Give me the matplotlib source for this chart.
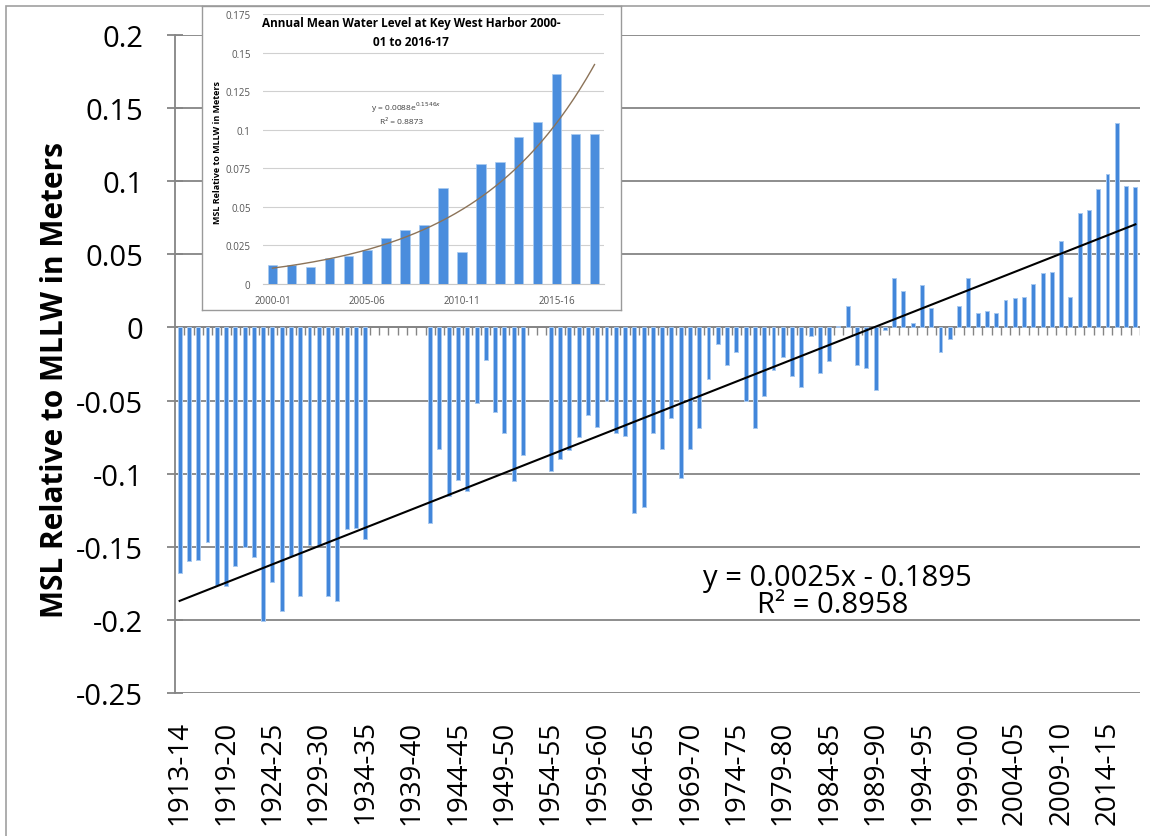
import numpy as np
import matplotlib
matplotlib.use("Agg")
import matplotlib.pyplot as plt
from matplotlib.patches import Rectangle

plt.rcParams['font.family'] = ['Open Sans', 'DejaVu Sans']

# Water years (July-June); 1914-15 is absent from the record
start_years = [1913] + list(range(1915, 2018))
seasons = [f"{y}-{(y + 1) % 100:02d}" for y in start_years]

# Annual mean sea level relative to MLLW (m); None = no data that year
msl = [
    -0.168, -0.160, -0.159, -0.147, -0.176, -0.177, -0.163, -0.150, -0.157, -0.201,
    -0.174, -0.194, -0.156, -0.184, -0.149, -0.149, -0.184, -0.187, -0.138, -0.137,
    -0.145, None, None, None, None, None, None, -0.134, -0.083, -0.115,
    -0.104, -0.112, -0.052, -0.022, -0.058, -0.072, -0.105, -0.087, None, None,
    -0.098, -0.090, -0.084, -0.075, -0.060, -0.068, -0.050, -0.072, -0.074, -0.127,
    -0.123, -0.072, -0.083, -0.062, -0.103, -0.083, -0.069, -0.035, -0.011, -0.026,
    -0.017, -0.050, -0.069, -0.047, -0.029, -0.020, -0.033, -0.041, -0.006, -0.031,
    -0.023, 0.001, 0.015, -0.026, -0.028, -0.043, -0.002, 0.034, 0.025, 0.003,
    0.029, 0.013, -0.017, -0.008, 0.015, 0.034, 0.010, 0.011, 0.010, 0.019,
    0.020, 0.021, 0.030, 0.037, 0.038, 0.059, 0.021, 0.078, 0.080, 0.095,
    0.105, 0.140, 0.097, 0.096,
]
y_ticks = [-0.25, -0.2, -0.15, -0.1, -0.05, 0.0, 0.05, 0.1, 0.15, 0.2]
y_tick_labels = ["-0.25", "-0.2", "-0.15", "-0.1", "-0.05", "0", "0.05", "0.1", "0.15", "0.2"]
trend_slope, trend_intercept, trend_r2 = 0.0025, -0.1895, 0.8958

# Inset: recent years
recent_seasons = seasons[-18:]
recent_msl = [0.012, 0.012, 0.011, 0.017, 0.018, 0.022, 0.030, 0.035, 0.038, 0.062,
              0.021, 0.078, 0.079, 0.095, 0.105, 0.136, 0.097, 0.097]
inset_ticks = [0, 0.025, 0.05, 0.075, 0.1, 0.125, 0.15, 0.175]
inset_tick_labels = ["0", "0.025", "0.05", "0.075", "0.1", "0.125", "0.15", "0.175"]
exp_a, exp_b, exp_r2 = 0.0088, 0.1546, 0.8873

W, H = 1150, 837
fig = plt.figure(figsize=(W / 100, H / 100), dpi=100)
fig.patch.set_facecolor('white')

def fx(px):
    return px / W

def fy(py):
    return 1 - py / H

grid_c = '#858585'
bar_c = '#4286DA'
bar_edge = '#A8C9F0'

# outer chart border (top and left edges visible)
fig.patches.append(Rectangle((fx(6), fy(H + 20)), fx(W + 20), (H + 13) / H,
                             transform=fig.transFigure, fill=False,
                             edgecolor='#a0a0a0', lw=1.2, zorder=0))

# ---- main chart ----
ax = fig.add_axes([fx(175), fy(694), fx(1140 - 175), (694 - 36) / H])
n = len(seasons)
x = np.arange(n)
vals = np.array([np.nan if v is None else v for v in msl], dtype=float)
ax.bar(x, vals, width=0.42, color=bar_c, edgecolor=bar_edge, linewidth=0.7, zorder=3)

xt = np.arange(1, n + 1)
ax.plot(x, trend_slope * xt + trend_intercept, color='black', lw=1.5, zorder=4)

ax.set_xlim(-0.5, n - 0.5)
ax.set_ylim(-0.25, 0.2)
ax.set_yticks(y_ticks)
ax.set_yticklabels(y_tick_labels, fontsize=21)
ax.yaxis.grid(True, color=grid_c, lw=1.3, zorder=1)
ax.set_axisbelow(True)
for s in ['top', 'right', 'bottom']:
    ax.spines[s].set_visible(False)
ax.spines['left'].set_color(grid_c)
ax.spines['left'].set_linewidth(1.3)
ax.tick_params(axis='y', direction='inout', length=12, color=grid_c, width=1.3, pad=17)

ax.set_xticks(x[::5])
ax.set_xticklabels(seasons[::5], rotation=90, fontsize=20)
ax.tick_params(axis='x', length=0, pad=19)

# category axis drawn through zero
ax.axhline(0, color=grid_c, lw=1.3, zorder=2)
ax.vlines(np.arange(n) + 0.5, -0.0055, 0, color=grid_c, lw=1.0, zorder=2)

ax.text(0.686, 0.176, f"y = {trend_slope}x - {abs(trend_intercept)}", transform=ax.transAxes,
        ha='center', va='center', fontsize=21)
ax.text(0.682, 0.134, f"R² = {trend_r2}", transform=ax.transAxes,
        ha='center', va='center', fontsize=21)

fig.text(fx(55), fy(380), "MSL Relative to MLLW in Meters", rotation=90,
         ha='center', va='center', fontsize=21.5, fontweight='bold')

# ---- inset ----
frame = fig.add_axes([fx(202), fy(311), fx(621 - 202), (311 - 7) / H], zorder=5)
frame.set_xticks([])
frame.set_yticks([])
frame.set_facecolor('white')
for s in frame.spines.values():
    s.set_color('#9a9a9a')
    s.set_linewidth(1.0)

ins = fig.add_axes([fx(263), fy(285), fx(604 - 263), (285 - 15) / H], zorder=6)
ins.patch.set_alpha(0)
xi = np.arange(len(recent_seasons))
ins.bar(xi, recent_msl, width=0.5, color='#4A8DDD', edgecolor='#A9CBF1', linewidth=0.5, zorder=3)
xx = np.linspace(0, len(recent_seasons) - 1, 200)
ins.plot(xx, exp_a * np.exp(exp_b * (xx + 1)), color='#8C7358', lw=1.0, zorder=4)
ins.set_xlim(-0.5, len(recent_seasons) - 0.5)
ins.set_ylim(0, 0.175)
ins.set_yticks(inset_ticks)
ins.set_yticklabels(inset_tick_labels, fontsize=7, color='#555555')
ins.yaxis.grid(True, color='#d0d0d0', lw=0.8, zorder=1)
ins.set_axisbelow(True)
for s in ['top', 'right', 'left']:
    ins.spines[s].set_visible(False)
ins.spines['bottom'].set_color('#c8c8c8')
ins.tick_params(axis='y', length=0, pad=9)
ins.set_xticks(xi[::5])
ins.set_xticklabels(recent_seasons[::5], fontsize=7, color='#555555')
ins.tick_params(axis='x', length=0, pad=8)

ins.text(0.42, 0.655, f"y = {exp_a}e$^{{{exp_b}x}}$", transform=ins.transAxes,
         ha='center', va='center', fontsize=6, color='#404040')
ins.text(0.405, 0.60, f"R² = {exp_r2}", transform=ins.transAxes,
         ha='center', va='center', fontsize=6, color='#404040')

fig.text(fx(411), fy(33), "Annual Mean Water Level at Key West Harbor 2000-\n01 to 2016-17",
         ha='center', va='center', fontsize=8.5, fontweight='bold', linespacing=1.5, zorder=7)
fig.text(fx(217), fy(152), "MSL Relative to MLLW in Meters", rotation=90,
         ha='center', va='center', fontsize=6.5, fontweight='bold', zorder=7)

fig.savefig("out.png", dpi=100, facecolor='white')
